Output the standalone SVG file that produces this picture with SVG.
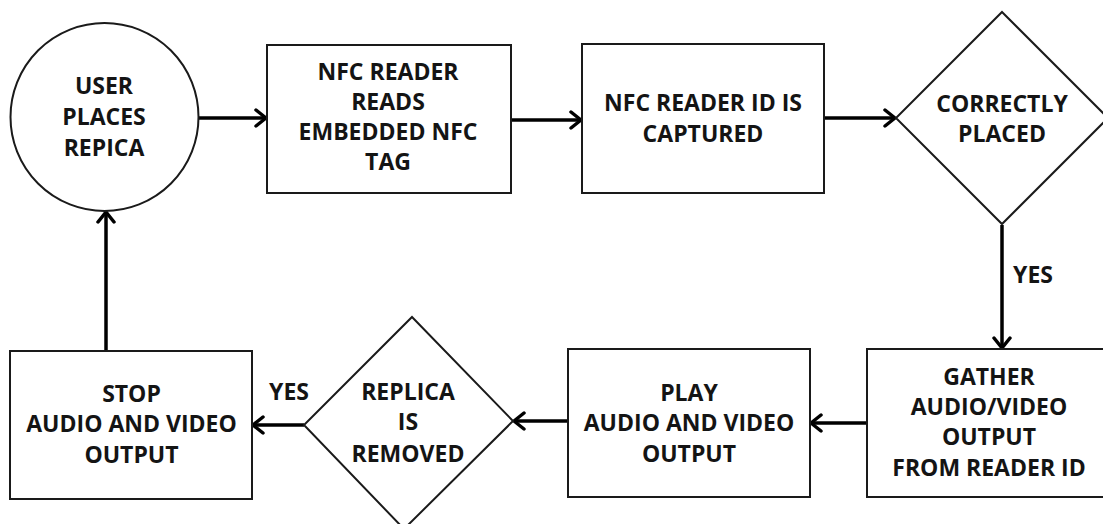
<svg xmlns="http://www.w3.org/2000/svg" width="1103" height="524" viewBox="0 0 1103 524">
  <defs>
    <style>
      .shape { fill: #ffffff; stroke: #1a1a1a; stroke-width: 2; }
      .label { font-family: "Open Sans", "Liberation Sans", sans-serif; font-weight: 700; font-size: 23px; fill: #141414; text-anchor: middle; }
      .flow { fill: none; stroke: #000000; stroke-width: 3.5; marker-end: url(#head); }
    </style>
    <marker id="head" markerUnits="userSpaceOnUse" markerWidth="16" markerHeight="20" refX="12" refY="10" orient="auto">
      <path d="M2,2 L12,10 L2,18" fill="none" stroke="#000000" stroke-width="3.5" stroke-linecap="round" stroke-linejoin="round"/>
    </marker>
  </defs>
  <rect width="1103" height="524" fill="#ffffff"/>

  <!-- connectors -->
  <g id="connectors">
    <line class="flow" x1="199" y1="118" x2="266" y2="118"/>
    <line class="flow" x1="511" y1="120" x2="581" y2="120"/>
    <line class="flow" x1="824" y1="118" x2="895" y2="118"/>
    <line class="flow" x1="1002" y1="225" x2="1002" y2="348"/>
    <line class="flow" x1="867" y1="423" x2="811" y2="423"/>
    <line class="flow" x1="568" y1="421" x2="514" y2="421"/>
    <line class="flow" x1="304" y1="425" x2="253" y2="425"/>
    <line class="flow" x1="106" y1="351" x2="106" y2="212"/>
    <text class="label" x="1033" y="283">YES</text>
    <text class="label" x="289" y="400">YES</text>
  </g>

  <g id="user-places">
    <circle class="shape" cx="104.5" cy="117" r="94"/>
    <text class="label" x="104" y="94.3">USER</text>
    <text class="label" x="104" y="125">PLACES</text>
    <text class="label" x="104" y="155.7">REPICA</text>
  </g>

  <g id="reader-reads">
    <rect class="shape" x="267" y="45" width="244" height="148"/>
    <text class="label" x="388" y="80">NFC READER</text>
    <text class="label" x="388" y="110">READS</text>
    <text class="label" x="388" y="140">EMBEDDED NFC</text>
    <text class="label" x="388" y="170">TAG</text>
  </g>

  <g id="id-captured">
    <rect class="shape" x="582" y="44" width="242" height="149"/>
    <text class="label" x="703" y="110.5">NFC READER ID IS</text>
    <text class="label" x="703" y="142">CAPTURED</text>
  </g>

  <g id="correctly-placed">
    <polygon class="shape" points="1002,12 1108,118 1002,224 896,118"/>
    <text class="label" x="1002" y="111.5">CORRECTLY</text>
    <text class="label" x="1002" y="142">PLACED</text>
  </g>

  <g id="gather-output">
    <rect class="shape" x="867" y="349" width="244" height="148"/>
    <text class="label" x="989" y="385">GATHER</text>
    <text class="label" x="989" y="415">AUDIO/VIDEO</text>
    <text class="label" x="989" y="445">OUTPUT</text>
    <text class="label" x="989" y="476">FROM READER ID</text>
  </g>

  <g id="play-output">
    <rect class="shape" x="568" y="349" width="242" height="148"/>
    <text class="label" x="689" y="400.7">PLAY</text>
    <text class="label" x="689" y="430.7">AUDIO AND VIDEO</text>
    <text class="label" x="689" y="461.7">OUTPUT</text>
  </g>

  <g id="replica-removed">
    <polygon class="shape" points="412,317 513,421 404,529 304,425"/>
    <text class="label" x="408" y="400">REPLICA</text>
    <text class="label" x="408" y="430">IS</text>
    <text class="label" x="408" y="461.5">REMOVED</text>
  </g>

  <g id="stop-output">
    <rect class="shape" x="10" y="351" width="242" height="148"/>
    <text class="label" x="131.5" y="401.7">STOP</text>
    <text class="label" x="131.5" y="432.3">AUDIO AND VIDEO</text>
    <text class="label" x="131.5" y="463.3">OUTPUT</text>
  </g>
</svg>
